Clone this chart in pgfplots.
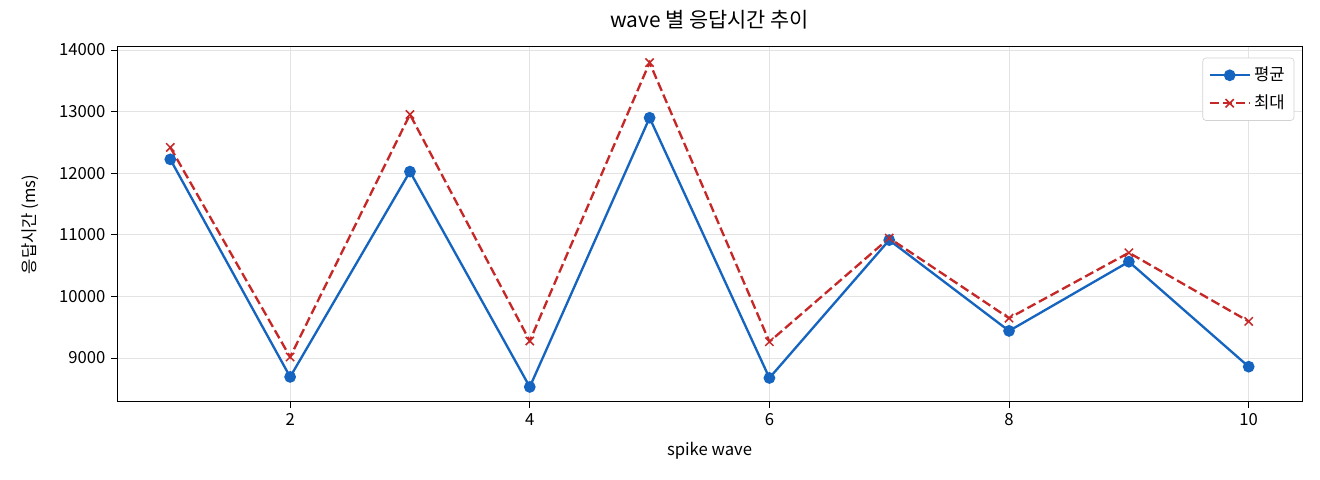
\documentclass[border=0pt]{standalone}
\usepackage{fontspec}
\setmainfont{Noto Sans CJK KR}
\usepackage{pgfplots}
\pgfplotsset{compat=1.18}
\definecolor{cblue}{HTML}{1565C0}
\definecolor{cred}{HTML}{C62828}
\begin{document}
\fontsize{10pt}{12pt}\selectfont
\begin{tikzpicture}
\useasboundingbox (0,0) rectangle (792pt,288pt);
\begin{axis}[
  at={(70.2pt,46.8pt)}, anchor=south west,
  scale only axis, width=711pt, height=213pt,
  xmin=0.555, xmax=10.445, ymin=8286, ymax=14049,
  xtick={2,4,6,8,10},
  ytick={9000,10000,11000,12000,13000,14000},
  scaled ticks=false,
  /pgf/number format/1000 sep={},
  /pgf/number format/assume math mode=true,
  tick align=outside, major tick length=3.5pt,
  xtick pos=left, ytick pos=left,
  tick style={black, line width=0.6pt},
  axis line style={line width=0.6pt},
  grid=major, grid style={gray!22, line width=0.5pt},
  ticklabel style={font=\fontsize{10pt}{12pt}\selectfont},
  title={wave 별 응답시간 추이},
  title style={at={(axis description cs:0.5,1.048)},anchor=center,font=\fontsize{12.5pt}{14pt}\selectfont},
  xlabel={spike wave},
  x label style={at={(axis description cs:0.5,-0.138)},anchor=center},
  ylabel={응답시간 (ms)},
  y label style={at={(axis description cs:-0.0734,0.5)},anchor=center},
  legend style={at={(0.9935,0.97)},anchor=north east, draw=gray!35, rounded corners=2pt, font=\fontsize{10pt}{12pt}\selectfont, row sep=3pt, inner sep=3.5pt},
  legend cell align=left,
  legend image code/.code={\draw[mark repeat=2,mark phase=2] plot coordinates {(0cm,0cm) (0.42cm,0cm) (0.84cm,0cm)};},
]
\addplot[cblue, line width=1.4pt, mark=*, mark size=2.8pt, mark options={solid}] coordinates {
(1,12225) (2,8693) (3,12026) (4,8530) (5,12900) (6,8676) (7,10914) (8,9440) (9,10563) (10,8859)};
\addlegendentry{평균}
\addplot[cred, line width=1.4pt, dash pattern=on 5.5pt off 2.4pt, mark=x, mark size=3.5pt, mark options={solid, line width=0.9pt}] coordinates {
(1,12419) (2,9016) (3,12953) (4,9276) (5,13795) (6,9264) (7,10947) (8,9647) (9,10709) (10,9594)};
\addlegendentry{최대}
\end{axis}
\end{tikzpicture}
\end{document}
